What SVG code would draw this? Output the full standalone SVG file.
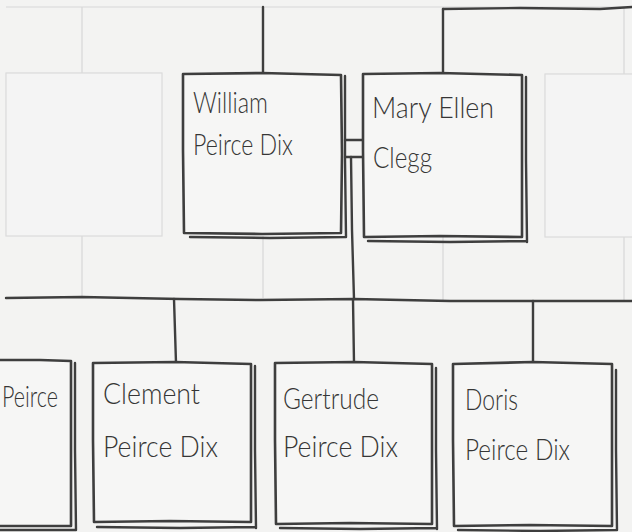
<svg xmlns="http://www.w3.org/2000/svg" width="632" height="532" viewBox="0 0 632 532">
<style>
.paper{fill:#f3f3f2}
.grid{fill:none;stroke:#d8d8d8;stroke-width:1.2}
.ghost{fill:#f4f4f4;stroke:#dadada;stroke-width:1.2}
.box{fill:#f6f6f5;stroke:#3e3e3e;stroke-width:2.6;stroke-linejoin:round}
.dbl{fill:none;stroke:#3e3e3e;stroke-width:2.4;stroke-linecap:round}
.ln{fill:none;stroke:#3e3e3e;stroke-width:2.4;stroke-linecap:round;stroke-linejoin:round}
.t{font-family:Lato,"Liberation Sans","DejaVu Sans",sans-serif;font-weight:300;font-size:30px;fill:#363636}
</style>
<rect class="paper" x="0" y="0" width="632" height="532"/>
<g id="grid">
<path class="grid" d="M6 7 L632 7"/>
<path class="grid" d="M82 7 L82 73 M263 7 L263 73 M624 7 L624 74"/>
<path class="grid" d="M82 236 L82 298 M263 236 L263 298 M443 237 L443 300 M624 237 L624 300"/>
<rect class="ghost" x="6" y="73" width="156" height="163"/>
<rect class="ghost" x="545" y="74" width="95" height="163"/>
</g>
<g id="connectors">
<path class="ln" d="M263 7 L263 74"/>
<path class="ln" d="M443 9 L443 74"/>
<path class="ln" d="M443 9 L520 8 L600 9 L632 7"/>
<path class="ln" d="M345 140 L363 140"/>
<path class="ln" d="M345 157 L363 157"/>
<path class="ln" d="M351 157 L352 230 L354 299"/>
<path class="ln" d="M6 298 L82 297 L180 299 L260 300 L354 299 L450 301 L540 301 L632 301"/>
<path class="ln" d="M174 299 L176 363"/>
<path class="ln" d="M353 300 L354 363"/>
<path class="ln" d="M533 301 L533 363"/>
</g>
<g id="william">
<path class="box" d="M183 74 L262 73 L341 75 L342 154 L341 233 L262 234 L184 233 L183 150 Z"/>
<path class="dbl" d="M345 76 L345 160 L346 237 M190 237 L270 238 L345 237"/>
<text class="t" x="193" y="113" textLength="75" lengthAdjust="spacingAndGlyphs">William</text>
<text class="t" x="193" y="155" textLength="100" lengthAdjust="spacingAndGlyphs">Peirce Dix</text>
</g>
<g id="mary">
<path class="box" d="M363 74 L440 73 L522 75 L522 156 L522 237 L440 236 L364 237 L363 150 Z"/>
<path class="dbl" d="M526 77 L526 160 L527 242 M368 241 L450 242 L527 241"/>
<text class="t" x="372" y="118" textLength="122" lengthAdjust="spacingAndGlyphs">Mary Ellen</text>
<text class="t" x="373" y="168" textLength="59" lengthAdjust="spacingAndGlyphs">Clegg</text>
</g>
<g id="sibling-left">
<path class="box" d="M-4 360 L40 360 L71 361 L71 440 L71 526 L40 526 L-4 526 Z"/>
<path class="dbl" d="M75 363 L75 450 L76 530 M0 530 L40 530 L76 530"/>
<text class="t" x="2" y="407" textLength="56" lengthAdjust="spacingAndGlyphs">Peirce</text>
</g>
<g id="clement">
<path class="box" d="M93 363 L175 362 L251 364 L251 440 L251 522 L170 521 L94 522 L93 440 Z"/>
<path class="dbl" d="M255 366 L255 450 L256 528 M97 527 L180 528 L256 527"/>
<text class="t" x="103" y="404" textLength="97" lengthAdjust="spacingAndGlyphs">Clement</text>
<text class="t" x="103" y="457" textLength="115" lengthAdjust="spacingAndGlyphs">Peirce Dix</text>
</g>
<g id="gertrude">
<path class="box" d="M275 363 L354 362 L432 364 L432 440 L432 524 L350 523 L276 524 L275 440 Z"/>
<path class="dbl" d="M436 368 L436 450 L437 529 M280 528 L360 529 L437 528"/>
<text class="t" x="283" y="409" textLength="96" lengthAdjust="spacingAndGlyphs">Gertrude</text>
<text class="t" x="283" y="457" textLength="115" lengthAdjust="spacingAndGlyphs">Peirce Dix</text>
</g>
<g id="doris">
<path class="box" d="M453 364 L533 362 L612 364 L612 445 L612 526 L530 525 L454 526 L453 440 Z"/>
<path class="dbl" d="M616 370 L616 450 L617 530 M458 530 L540 531 L617 530"/>
<text class="t" x="465" y="410" textLength="53" lengthAdjust="spacingAndGlyphs">Doris</text>
<text class="t" x="465" y="460" textLength="105" lengthAdjust="spacingAndGlyphs">Peirce Dix</text>
</g>
</svg>
